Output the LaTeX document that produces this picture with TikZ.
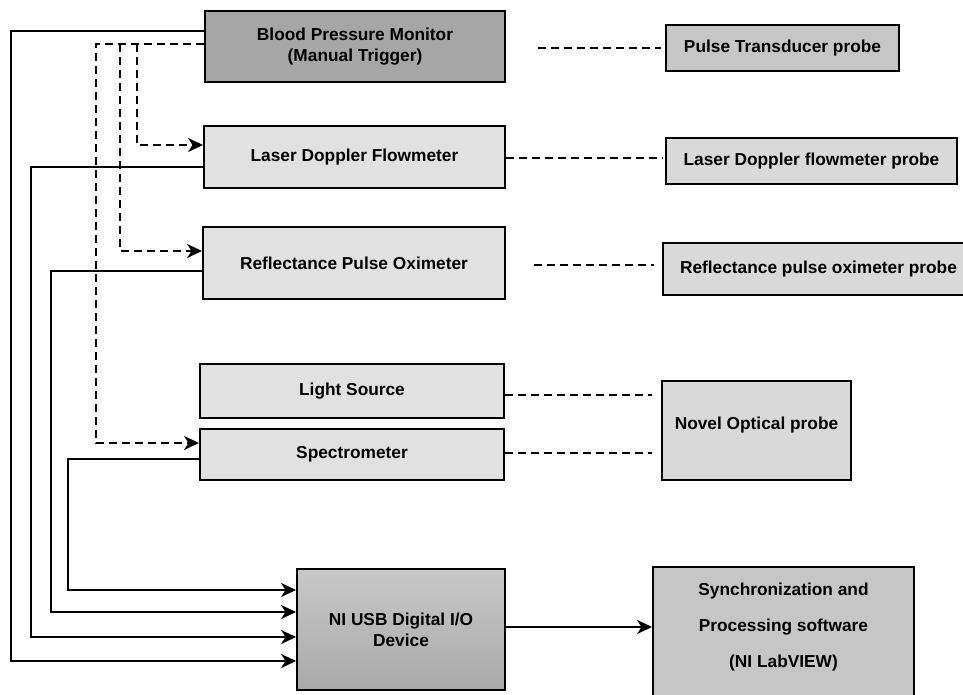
\documentclass[tikz,border=0pt]{standalone}
\usepackage{fontspec}
\setmainfont{Liberation Sans}
\usepackage{xcolor}
\usepackage{tikz}
\usetikzlibrary{arrows.meta}
\definecolor{boxdark}{HTML}{A6A6A6}
\definecolor{boxmid}{HTML}{C6C6C6}
\definecolor{boxlight}{HTML}{E1E1E1}
\definecolor{probelight}{HTML}{D9D9D9}
\definecolor{niTop}{HTML}{C8C8C8}
\definecolor{niBot}{HTML}{A9A9A9}
\tikzset{
  box/.style={draw=black, line width=1.9pt, align=center, inner sep=2pt, font=\bfseries\fontsize{17.3}{21}\selectfont},
  dbox/.style={box, fill=boxdark},
  mbox/.style={box, fill=boxmid},
  lbox/.style={box, fill=boxlight},
  pbox/.style={box, fill=probelight},
  flow/.style={-{Stealth[length=15pt,width=14pt,inset=4.5pt]}, line width=2.2pt},
  trig/.style={flow, dash pattern=on 8pt off 5pt},
  link/.style={line width=2pt, dash pattern=on 8pt off 5pt},
}
\begin{document}
\begin{tikzpicture}[x=1pt, y=-1pt]
\useasboundingbox (0,0) rectangle (963,695);
\clip (0,0) rectangle (963,695);
% instruments
\node[dbox, minimum width=300pt, minimum height=71pt] (bpm) at (355,46.5) {Blood Pressure Monitor\\(Manual Trigger)};
\node[lbox, minimum width=301pt, minimum height=62pt] (ldf) at (354.5,157) {Laser Doppler Flowmeter};
\node[lbox, minimum width=302pt, minimum height=72pt] (rpo) at (354,263) {Reflectance Pulse Oximeter};
\node[lbox, minimum width=304pt, minimum height=54pt] (ls) at (352,391) {Light Source};
\node[lbox, minimum width=304pt, minimum height=51pt] (spec) at (352,454.5) {Spectrometer};
\node[box, top color=niTop, bottom color=niBot, minimum width=208pt, minimum height=121pt] (ni) at (401,629.5) {NI USB Digital I/O\\Device};
% probes
\node[mbox, minimum width=233pt, minimum height=46pt] (ptp) at (782.5,48) {Pulse Transducer probe};
\node[pbox, minimum width=291pt, minimum height=46pt] (ldfp) at (811.5,161) {Laser Doppler flowmeter probe};
\node[pbox, minimum width=311pt, minimum height=52pt] (rpop) at (818.5,269) {Reflectance pulse oximeter probe};
\node[pbox, minimum width=189pt, minimum height=99pt] (nop) at (756.5,430.5) {Novel Optical probe\\[-7pt]\mbox{}};
\node[mbox, font=\bfseries\fontsize{17.3}{36}\selectfont, minimum width=261pt, minimum height=132pt] (sync) at (783.5,633) {Synchronization and\\Processing software\\(NI LabVIEW)\\[-20pt]\mbox{}};
% trigger lines
\draw[trig] (bpm.west |- 0,44) -- (96,44) -- (96,443) -- (spec.west |- 0,443);
\draw[trig] (120,44) -- (120,251) -- (rpo.west |- 0,251);
\draw[trig] (137,44) -- (137,145) -- (ldf.west |- 0,145);
% data lines
\draw[flow] (bpm.west |- 0,31) -- (11,31) -- (11,661) -- (ni.west |- 0,661);
\draw[flow] (ldf.west |- 0,167) -- (31,167) -- (31,637) -- (ni.west |- 0,637);
\draw[flow] (rpo.west |- 0,271) -- (51,271) -- (51,612) -- (ni.west |- 0,612);
\draw[flow] (spec.west |- 0,459) -- (68,459) -- (68,590) -- (ni.west |- 0,590);
\draw[flow] (ni.east |- 0,627) -- (sync.west |- 0,627);
% probe links
\draw[link, shorten <=32pt, shorten >=4pt] (bpm.east |- 0,48) -- (ptp.west |- 0,48);
\draw[link, shorten >=3pt] (ldf.east |- 0,158) -- (ldfp.west |- 0,158);
\draw[link, shorten <=28pt, shorten >=8pt] (rpo.east |- 0,265) -- (rpop.west |- 0,265);
\draw[link, shorten >=9pt] (ls.east |- 0,395) -- (nop.west |- 0,395);
\draw[link, shorten >=9pt] (spec.east |- 0,453) -- (nop.west |- 0,453);
\end{tikzpicture}
\end{document}
